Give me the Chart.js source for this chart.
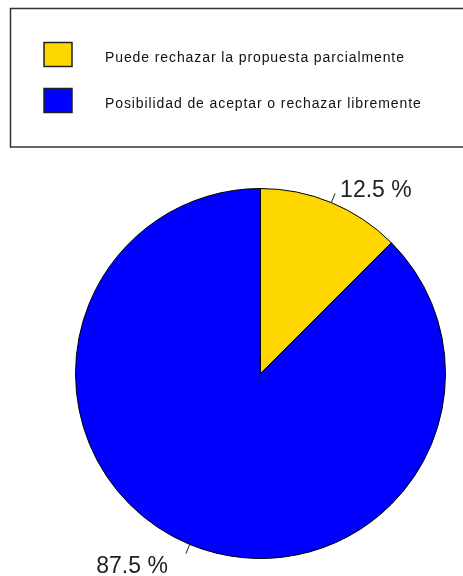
<!DOCTYPE html>
<html>
<head>
<meta charset="utf-8">
<script src="https://cdn.jsdelivr.net/npm/chart.js@4/dist/chart.umd.min.js"></script>
<style>
  html, body { margin: 0; padding: 0; background: #fff; }
  #wrap { width: 463px; height: 576px; position: relative; }
</style>
</head>
<body>
<div id="wrap"><canvas id="c" width="463" height="576"></canvas></div>
<script>
// Answer categories and their shares (percent)
const categories = [
  'Puede rechazar la propuesta parcialmente',
  'Posibilidad de aceptar o rechazar libremente'
];
const shares = [12.5, 87.5];
const sliceColors = ['#FFD700', '#0000FF'];

// Boxed legend at the top plus leader lines and percentage labels around the pie
const decorations = {
  id: 'decorations',
  afterDraw(chart) {
    const ctx = chart.ctx;
    const ds = chart.data.datasets[0];

    // legend frame
    ctx.save();
    ctx.strokeStyle = '#333';
    ctx.lineWidth = 1.5;
    ctx.strokeRect(10.5, 8.5, 470, 138.5);

    // legend entries
    const rows = [42.5, 88.5];
    ctx.font = '14px "Liberation Sans", Arial, sans-serif';
    ctx.letterSpacing = '0.9px';
    ctx.textBaseline = 'alphabetic';
    ctx.textAlign = 'left';
    chart.data.labels.forEach((lab, i) => {
      const y = rows[i];
      ctx.fillStyle = ds.backgroundColor[i];
      ctx.fillRect(44, y, 28, 24);
      ctx.strokeStyle = '#222';
      ctx.lineWidth = 1.5;
      ctx.strokeRect(44, y, 28, 24);
      ctx.fillStyle = '#111';
      ctx.fillText(lab, 105, y + 19);
    });
    ctx.letterSpacing = '0px';

    // leader ticks and value labels
    const meta = chart.getDatasetMeta(0);
    meta.data.forEach((arc, i) => {
      const p = arc.getProps(['x', 'y', 'startAngle', 'endAngle', 'outerRadius'], true);
      const mid = (p.startAngle + p.endAngle) / 2;
      const cx = Math.cos(mid), cy = Math.sin(mid);
      const x0 = p.x + cx * p.outerRadius, y0 = p.y + cy * p.outerRadius;
      const x1 = p.x + cx * (p.outerRadius + 10), y1 = p.y + cy * (p.outerRadius + 10);
      ctx.strokeStyle = '#222';
      ctx.lineWidth = 1;
      ctx.beginPath();
      ctx.moveTo(x0, y0);
      ctx.lineTo(x1, y1);
      ctx.stroke();

      const text = ds.data[i] + ' %';
      const right = cx >= 0;
      const tx = right ? x1 + 5 : x1 - 18;
      const ty = right ? y1 + 3.5 : y1 + 19;
      ctx.font = '23px "Liberation Sans", Arial, sans-serif';
      ctx.fillStyle = '#222';
      ctx.textAlign = right ? 'left' : 'right';
      ctx.textBaseline = 'alphabetic';
      ctx.fillText(text, tx, ty);
    });
    ctx.restore();
  }
};

new Chart(document.getElementById('c'), {
  type: 'pie',
  data: {
    labels: categories,
    datasets: [{
      data: shares,
      backgroundColor: sliceColors,
      borderColor: '#000',
      borderWidth: 1
    }]
  },
  options: {
    responsive: false,
    animation: false,
    layout: { padding: { left: 75, right: 17, top: 188, bottom: 17 } },
    plugins: {
      legend: { display: false },
      tooltip: { enabled: false }
    }
  },
  plugins: [decorations]
});
</script>
</body>
</html>
